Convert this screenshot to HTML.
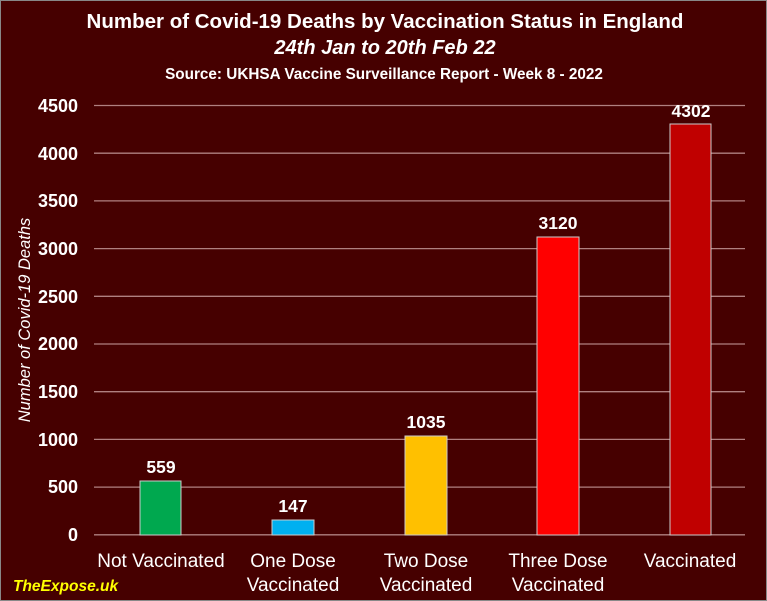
<!DOCTYPE html>
<html><head><style>
body{margin:0;background:#460000;}
svg{display:block}
text{font-family:"Liberation Sans",sans-serif;fill:#fff}
</style></head><body>
<svg width="767" height="601" viewBox="0 0 767 601">
<rect x="0.5" y="0.5" width="766" height="600" fill="#460000" stroke="#888" stroke-width="1"/>
<text x="385" y="28" text-anchor="middle" font-size="20.5" font-weight="bold">Number of Covid-19 Deaths by Vaccination Status in England</text>
<text x="385" y="54" text-anchor="middle" font-size="20" font-weight="bold" font-style="italic">24th Jan to 20th Feb 22</text>
<text x="384" y="79" text-anchor="middle" font-size="15.3" font-weight="bold">Source: UKHSA Vaccine Surveillance Report - Week 8 - 2022</text>
<g stroke="#b08080" stroke-width="1.3">
<line x1="94" x2="745" y1="105.5" y2="105.5"/>
<line x1="94" x2="745" y1="153.2" y2="153.2"/>
<line x1="94" x2="745" y1="200.9" y2="200.9"/>
<line x1="94" x2="745" y1="248.6" y2="248.6"/>
<line x1="94" x2="745" y1="296.3" y2="296.3"/>
<line x1="94" x2="745" y1="344" y2="344"/>
<line x1="94" x2="745" y1="391.7" y2="391.7"/>
<line x1="94" x2="745" y1="439.4" y2="439.4"/>
<line x1="94" x2="745" y1="487.1" y2="487.1"/>
<line x1="94" x2="745" y1="534.8" y2="534.8"/>
</g>
<g font-size="18" font-weight="bold" text-anchor="end">
<text x="78" y="112">4500</text><text x="78" y="160">4000</text><text x="78" y="207">3500</text>
<text x="78" y="255">3000</text><text x="78" y="303">2500</text><text x="78" y="350">2000</text>
<text x="78" y="398">1500</text><text x="78" y="446">1000</text><text x="78" y="493">500</text>
<text x="78" y="541">0</text>
</g>
<text transform="translate(30,320) rotate(-90)" text-anchor="middle" font-size="16.5" font-style="italic">Number of Covid-19 Deaths</text>
<g stroke="#ccc" stroke-width="1">
<rect x="140" y="481" width="41" height="54" fill="#00a84f"/>
<rect x="272" y="520" width="42" height="15" fill="#00b0f0"/>
<rect x="405" y="436" width="42" height="99" fill="#ffc000"/>
<rect x="537" y="237" width="42" height="298" fill="#ff0000"/>
<rect x="670" y="124" width="41" height="411" fill="#c00000"/>
</g>
<g font-size="17.5" font-weight="bold" text-anchor="middle">
<text x="161" y="473">559</text><text x="293" y="512">147</text><text x="426" y="428">1035</text>
<text x="558" y="229">3120</text><text x="691" y="117">4302</text>
</g>
<g font-size="19" text-anchor="middle">
<text x="161" y="567">Not Vaccinated</text>
<text x="293" y="567">One Dose</text><text x="293" y="591">Vaccinated</text>
<text x="426" y="567">Two Dose</text><text x="426" y="591">Vaccinated</text>
<text x="558" y="567">Three Dose</text><text x="558" y="591">Vaccinated</text>
<text x="690" y="567">Vaccinated</text>
</g>
<text x="13" y="591" font-size="15.5" font-weight="bold" font-style="italic" style="fill:#ffff00">TheExpose.uk</text>
</svg>
</body></html>
